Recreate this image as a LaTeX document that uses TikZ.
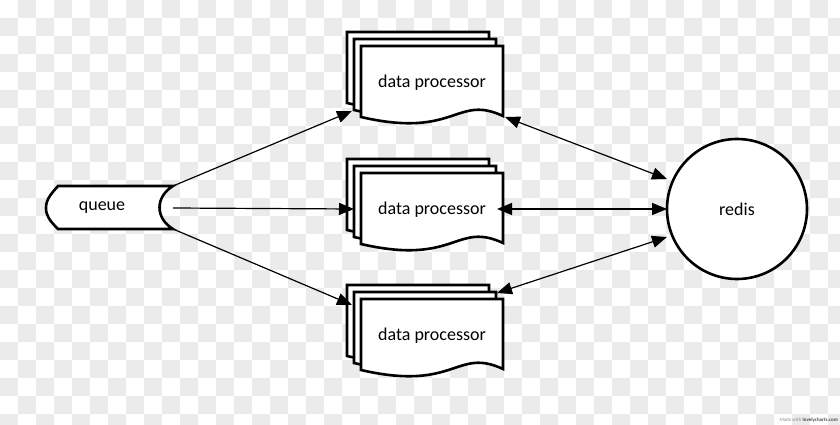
\documentclass[tikz,border=0pt]{standalone}
\usepackage{fontspec}
\setmainfont{Carlito}
\usetikzlibrary{arrows.meta}
\definecolor{chkgray}{HTML}{EBEBEB}
\tikzset{
  sheet/.style={draw=black,line width=2.6pt,fill=white,line join=miter},
  qshape/.style={draw=black,line width=2.6pt,fill=white},
  conn/.style={line width=1.2pt,-{Triangle[length=15pt,width=12pt]}},
  bconn/.style={line width=1.2pt,{Triangle[length=15pt,width=12pt]}-{Triangle[length=15pt,width=12pt]}},
  lbl/.style={font=\fontsize{18}{20}\selectfont,inner sep=0pt},
}
\newcommand{\wavesheet}[2]{%
  \path[sheet] (#1,#2) -- ++(142,0) -- ++(0,70)
    .. controls ++(-47,-22) and ++(95,22) .. ++(-142,1) -- cycle;}
\newcommand{\stackat}[3]{%
  \wavesheet{#1-14}{#2-14}
  \wavesheet{#1-7}{#2-7}
  \wavesheet{#1}{#2}
  \node[lbl] (#3) at (#1+71,#2+37) {data processor};}
\begin{document}
\begin{tikzpicture}[x=1pt,y=-1pt]
\useasboundingbox (0,0) rectangle (840,425);
% checkerboard background
\fill[white] (0,0) rectangle (840,425);
\foreach \i in {0,...,46}{\foreach \j in {0,...,23}{%
  \pgfmathtruncatemacro\chk{mod(\i+\j,2)}%
  \ifnum\chk=1 \fill[chkgray] (18*\i,18*\j) rectangle ++(18,18);\fi}}
% queue
\path[qshape] (58,186) -- (173,186)
  .. controls (155,197) and (155,218) .. (173,229) -- (58,229)
  .. controls (50,221) and (46,216) .. (46,208)
  .. controls (46,200) and (50,195) .. (58,186) -- cycle;
\node[lbl] (queue) at (102,208) {queue};
\coordinate (qt) at (173,186);
\coordinate (qm) at (173,208);
\coordinate (qb) at (173,229);
% processors
\stackat{361}{46}{p1}
\stackat{361}{173}{p2}
\stackat{361}{299}{p3}
\coordinate (p1in) at (352,111);
\coordinate (p2in) at (354,209);
\coordinate (p3in) at (352,305);
\coordinate (p1out) at (505,117);
\coordinate (p2out) at (497,209);
\coordinate (p3out) at (497,293);
% redis
\node[draw=black,line width=2.6pt,fill=white,circle,minimum size=140pt,inner sep=0pt,lbl] (redis) at (737,209) {redis};
\coordinate (r1) at (667,179);
\coordinate (r2) at (667,209);
\coordinate (r3) at (667,237);
% connectors
\draw[conn] (qt) -- (p1in);
\draw[conn] (qm) -- (p2in);
\draw[conn] (qb) -- (p3in);
\draw[bconn] (p1out) -- (r1);
\draw[bconn] (p2out) -- (r2);
\draw[bconn] (p3out) -- (r3);
% watermark
\node[anchor=east,inner sep=0pt,font=\fontsize{5}{6}\selectfont,text=black!45] (wm) at (838,420) {Made with \textbf{\textcolor{black!70}{lovelycharts.com}}};
\end{tikzpicture}
\end{document}
